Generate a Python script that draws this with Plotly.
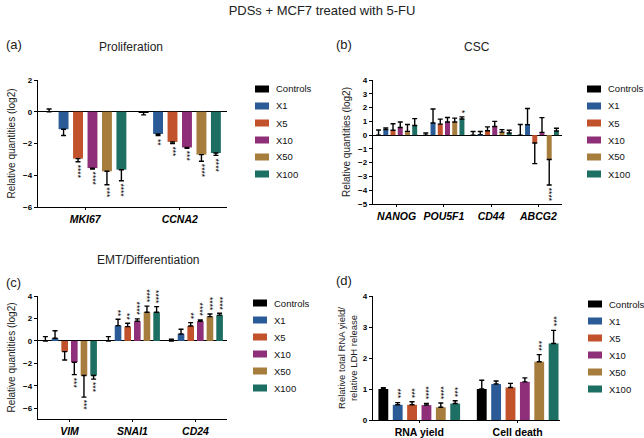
import plotly.graph_objects as go

W, H = 644, 438
FONT = "Liberation Sans, Arial, sans-serif"

SERIES = ["Controls", "X1", "X5", "X10", "X50", "X100"]
COLORS = ["#000000", "#2b5b96", "#c2522b", "#8f2f79", "#a67d3d", "#1d6f63"]

# (a) Proliferation
A_GENES = ["MKI67", "CCNA2"]
A_VALUES = [[0.0, -1.1, -2.95, -3.55, -3.75, -3.65],
            [-0.03, -1.4, -1.9, -2.25, -2.7, -2.6]]
A_ERRORS = [[0.17, 0.4, 0.2, 0.06, 0.85, 0.7],
            [0.17, 0.1, 0.1, 0.05, 0.42, 0.15]]
A_STARS = [["", "", "****", "****", "***", "****"],
           ["", "**", "***", "***", "****", "****"]]

# (b) CSC
B_GENES = ["NANOG", "POU5F1", "CD44", "ABCG2"]
B_VALUES = [[0.0, 0.4, 0.35, 0.55, 0.27, 0.7],
            [0.0, 0.88, 0.8, 0.95, 0.95, 1.17],
            [0.0, 0.02, 0.32, 0.63, 0.22, 0.15],
            [0.0, 0.76, -0.57, 0.2, -1.77, 0.3]]
B_ERRORS = [[0.37, 0.12, 0.48, 0.4, 0.5, 0.5],
            [0.15, 1.02, 0.36, 0.33, 0.28, 0.15],
            [0.26, 0.24, 0.28, 0.37, 0.18, 0.2],
            [0.77, 1.17, 1.5, 1.07, 1.85, 0.2]]
B_STARS = [["", "", "", "", "", ""],
           ["", "", "", "", "", "*"],
           ["", "", "", "", "", ""],
           ["", "", "", "", "****", ""]]

# (c) EMT/Differentiation
C_GENES = ["VIM", "SNAI1", "CD24"]
C_VALUES = [[0.0, 0.24, -0.95, -1.9, -3.08, -3.08],
            [0.0, 1.36, 1.27, 1.75, 2.55, 2.55],
            [0.0, 0.62, 1.33, 1.75, 2.16, 2.3]]
C_ERRORS = [[0.38, 0.66, 0.75, 1.1, 1.92, 0.32],
            [0.38, 0.57, 0.3, 0.21, 0.55, 0.5],
            [0.15, 0.42, 0.3, 0.12, 0.24, 0.16]]
C_STARS = [["", "", "", "***", "***", "***"],
           ["", "**", "**", "****", "****", "****"],
           ["", "", "**", "****", "****", "****"]]

# (d) RNA yield / cell death
D_GROUPS = ["RNA yield", "Cell death"]
D_VALUES = [[1.0, 0.49, 0.49, 0.48, 0.41, 0.53],
            [1.0, 1.16, 1.05, 1.23, 1.88, 2.47]]
D_ERRORS = [[0.04, 0.07, 0.1, 0.05, 0.14, 0.09],
            [0.28, 0.1, 0.13, 0.13, 0.23, 0.42]]
D_STARS = [["", "***", "***", "****", "****", "***"],
           ["", "", "", "", "***", "***"]]

fig = go.Figure()
annotations = []
shapes = []


def px_x(p):
    return p / W


def px_y(p):
    return 1 - p / H


def add_panel(idx, groups, values, errors, stars, spacing, width):
    xa = "x" if idx == 1 else f"x{idx}"
    ya = "y" if idx == 1 else f"y{idx}"
    for j, name in enumerate(SERIES):
        xs = [g + (j - 2.5) * spacing for g in range(len(groups))]
        vs = [values[g][j] for g in range(len(groups))]
        es = [errors[g][j] for g in range(len(groups))]
        plus = [e if v >= 0 else 0 for v, e in zip(vs, es)]
        minus = [e if v < 0 else 0 for v, e in zip(vs, es)]
        fig.add_trace(go.Bar(
            x=xs, y=vs, width=width, name=name,
            marker=dict(color=COLORS[j], line=dict(width=0)),
            error_y=dict(type="data", symmetric=False, array=plus, arrayminus=minus,
                         color="black", thickness=1.4, width=2.5),
            xaxis=xa, yaxis=ya, showlegend=False,
        ))
        for g in range(len(groups)):
            s = stars[g][j]
            if not s:
                continue
            v, e = vs[g], es[g]
            if v >= 0:
                annotations.append(dict(x=xs[g], y=v + e, xref=xa, yref=ya, text=s,
                                        textangle=90, showarrow=False, yanchor="bottom",
                                        yshift=1, font=dict(size=8.5, color="black", family=FONT)))
            else:
                annotations.append(dict(x=xs[g], y=v - e, xref=xa, yref=ya, text=s,
                                        textangle=90, showarrow=False, yanchor="top",
                                        yshift=-1, font=dict(size=8.5, color="black", family=FONT)))


add_panel(1, A_GENES, A_VALUES, A_ERRORS, A_STARS, 0.153, 0.105)
add_panel(2, B_GENES, B_VALUES, B_ERRORS, B_STARS, 0.153, 0.105)
add_panel(3, C_GENES, C_VALUES, C_ERRORS, C_STARS, 0.153, 0.105)
add_panel(4, D_GROUPS, D_VALUES, D_ERRORS, D_STARS, 0.146, 0.1)

tickfont = dict(size=8, color="black", family=FONT)


def xaxis(domain_px, rng, labels, italic=True, anchor="y"):
    return dict(
        domain=[px_x(domain_px[0]), px_x(domain_px[1])], range=rng, anchor=anchor,
        tickvals=list(range(len(labels))),
        ticktext=[f"<b><i>{t}</i></b>" if italic else f"<b>{t}</b>" for t in labels],
        tickfont=dict(size=10.5, color="black", family=FONT),
        showline=True, linecolor="black", linewidth=1.4, ticks="outside", ticklen=2,
        tickwidth=1.2, tickcolor="black", showgrid=False, zeroline=False, fixedrange=True,
        automargin=False,
    )


def yaxis(domain_px, rng, dtick, title, anchor="x", standoff=5, tsize=10):
    return dict(
        domain=[px_y(domain_px[1]), px_y(domain_px[0])], range=rng, anchor=anchor,
        dtick=dtick, tick0=0, tickfont=tickfont, showline=True, linecolor="black",
        linewidth=1.4, ticks="outside", ticklen=3, tickwidth=1.2, tickcolor="black",
        showgrid=False, zeroline=True, zerolinecolor="black", zerolinewidth=1.4,
        tickprefix="<b>", ticksuffix="</b>",
        title=dict(text=title, font=dict(size=tsize, color="#222", family=FONT), standoff=standoff),
        fixedrange=True, automargin=False,
    )


YT = "Relative quantities (log2)"

fig.update_layout(
    width=W, height=H, margin=dict(l=0, r=0, t=0, b=0, autoexpand=False),
    paper_bgcolor="white", plot_bgcolor="white", barmode="overlay", showlegend=False,
    font=dict(family=FONT, color="black"),
    title=dict(text="PDSs + MCF7 treated with 5-FU", x=0.5, xanchor="center",
               y=px_y(10), yanchor="middle", font=dict(size=13, color="#222", family=FONT)),
    xaxis=xaxis((38, 227), [-0.5, 1.5], A_GENES, anchor="y"),
    yaxis=yaxis((80, 207), [-6, 2], 2, YT, anchor="x"),
    xaxis2=xaxis((373, 562), [-0.5, 3.5], B_GENES, anchor="y2"),
    yaxis2=yaxis((80, 204), [-5, 4], 1, YT, anchor="x2"),
    xaxis3=xaxis((38, 227), [-0.5, 2.5], C_GENES, anchor="y3"),
    yaxis3=yaxis((296, 419), [-6.95, 4], 2, YT, anchor="x3"),
    xaxis4=xaxis((373, 560), [-0.47, 1.43], D_GROUPS, italic=False, anchor="y4"),
    yaxis4=yaxis((296, 420), [0, 4], 1, "Relative total RNA yield/<br>relative LDH release",
                 anchor="x4", standoff=3, tsize=9.5),
)

# legends, one per panel: (swatch left x, first item centre y)
LEGEND_POS = [(255, 89), (587, 89), (253, 303), (588, 304)]
for lx, ly in LEGEND_POS:
    for k, (name, col) in enumerate(zip(SERIES, COLORS)):
        cy = ly + 17 * k
        shapes.append(dict(type="rect", xref="paper", yref="paper",
                           x0=px_x(lx), x1=px_x(lx + 14), y0=px_y(cy + 3.5), y1=px_y(cy - 3.5),
                           fillcolor=col, line=dict(width=0)))
        annotations.append(dict(text=name, x=px_x(lx + 19), y=px_y(cy), xref="paper", yref="paper",
                                xanchor="left", yanchor="middle", showarrow=False,
                                font=dict(size=9.5, color="#111", family=FONT)))

panel_labels = [("(a)", 4, 45), ("(b)", 334, 45), ("(c)", 4, 282), ("(d)", 334, 280)]
for t, x, y in panel_labels:
    annotations.append(dict(text=t, x=px_x(x), y=px_y(y), xref="paper", yref="paper",
                            xanchor="left", yanchor="middle", showarrow=False,
                            font=dict(size=13, color="#222", family=FONT)))
panel_titles = [("Proliferation", 131, 47), ("CSC", 477, 47), ("EMT/Differentiation", 148, 260)]
for t, x, y in panel_titles:
    annotations.append(dict(text=t, x=px_x(x), y=px_y(y), xref="paper", yref="paper",
                            xanchor="center", yanchor="middle", showarrow=False,
                            font=dict(size=12, color="#222", family=FONT)))

fig.update_layout(annotations=annotations, shapes=shapes)
fig.write_html("out.html", config={"displayModeBar": False},
               post_script="document.body.style.margin='0';document.body.style.padding='0';")
